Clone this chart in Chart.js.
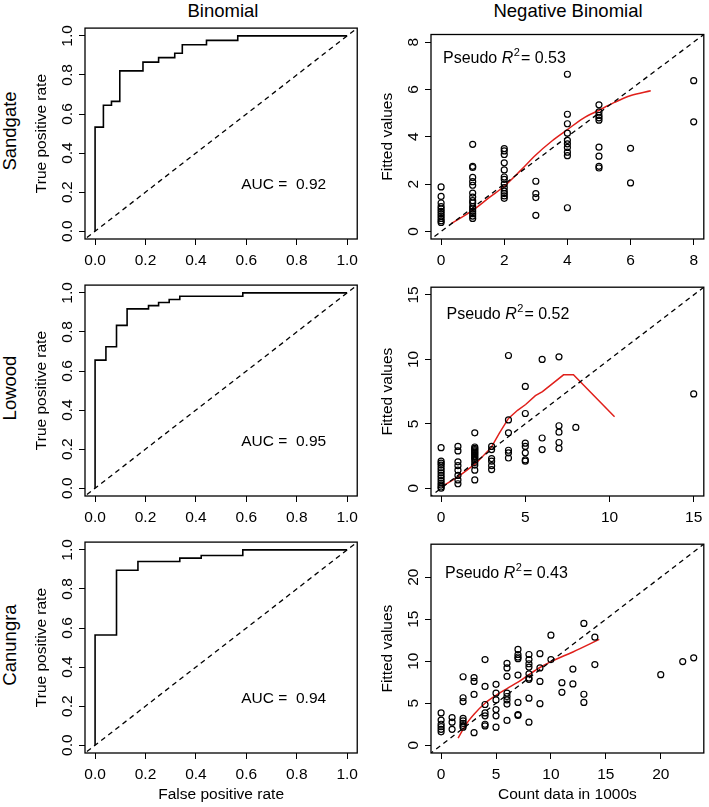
<!DOCTYPE html>
<html>
<head>
<meta charset="utf-8">
<script src="https://cdn.jsdelivr.net/npm/chart.js@4.4.1/dist/chart.umd.min.js"></script>
<style>
body{margin:0;background:#fff;width:709px;height:807px;position:relative;overflow:hidden;font-family:"Liberation Sans",Arial,sans-serif}
canvas{position:absolute}
.lab{position:absolute;white-space:nowrap;transform:translate(-50%,-50%);font-size:18.5px;color:#000;line-height:1}
.rot{transform:translate(-50%,-50%) rotate(-90deg)}
</style>
</head>
<body>
<div class="lab" style="left:223px;top:11px">Binomial</div>
<div class="lab" style="left:568px;top:11px">Negative Binomial</div>
<div class="lab rot" style="left:10px;top:131px">Sandgate</div>
<div class="lab rot" style="left:10px;top:388px">Lowood</div>
<div class="lab rot" style="left:10px;top:645px">Canungra</div>

<canvas id="roc1" width="364" height="251" style="left:0;top:18px"></canvas>
<canvas id="nb1" width="339" height="251" style="left:370px;top:18px"></canvas>
<canvas id="roc2" width="364" height="251" style="left:0;top:275px"></canvas>
<canvas id="nb2" width="339" height="251" style="left:370px;top:275px"></canvas>
<canvas id="roc3" width="364" height="275" style="left:0;top:532px"></canvas>
<canvas id="nb3" width="339" height="275" style="left:370px;top:532px"></canvas>

<script>
Chart.defaults.font.family = "'Liberation Sans', Arial, sans-serif";
Chart.defaults.color = '#000';

// ROC curves (false positive rate, true positive rate)
const rocTicks = [0, 0.2, 0.4, 0.6, 0.8, 1];
const sgFpr = [0, 0, 0.033, 0.065, 0.098, 0.19, 0.252, 0.316, 0.346, 0.442, 0.566, 1];
const sgTpr = [0, 0.533, 0.645, 0.665, 0.821, 0.866, 0.889, 0.911, 0.955, 0.977, 1, 1];
const lwFpr = [0, 0, 0.043, 0.085, 0.127, 0.212, 0.252, 0.294, 0.336, 0.586, 1];
const lwTpr = [0, 0.656, 0.724, 0.834, 0.918, 0.935, 0.951, 0.966, 0.983, 1, 1];
const cnFpr = [0, 0, 0.085, 0.170, 0.336, 0.421, 0.586, 1];
const cnTpr = [0, 0.564, 0.896, 0.941, 0.958, 0.971, 1, 1];
const aucLabels = ['AUC =  0.92', 'AUC =  0.95', 'AUC =  0.94'];

// negative binomial: observed counts and fitted values at each count
const sgTicks = [0, 2, 4, 6, 8];
const sgCounts = [0, 1, 2, 3, 4, 5, 6, 8];
const sgFitted = [
  [1.88, 1.48, 1.2, 1.05, 0.95, 0.85, 0.75, 0.65, 0.55, 0.45, 0.38],
  [3.68, 2.75, 2.7, 2.28, 2.1, 1.95, 1.62, 1.45, 1.3, 1.2, 1.05, 0.95, 0.85, 0.75, 0.65, 0.55],
  [3.5, 3.4, 3.25, 2.9, 2.6, 2.3, 2.2, 2.0, 1.85, 1.7, 1.6, 1.5, 1.4],
  [2.12, 1.6, 1.43, 0.68],
  [6.64, 4.95, 4.55, 4.15, 3.85, 3.7, 3.55, 3.35, 3.2, 1.0],
  [5.35, 5.05, 4.9, 4.8, 4.7, 3.56, 3.18, 2.75, 2.68],
  [3.51, 2.05],
  [6.37, 4.63]
];
const sgSmoothX = [0.33, 1.01, 1.53, 2.0, 2.52, 2.99, 3.51, 4.0, 4.5, 5.0, 5.49, 6.01, 6.64];
const sgSmoothY = [0.34, 0.9, 1.44, 1.91, 2.58, 3.22, 3.82, 4.3, 4.78, 5.12, 5.45, 5.74, 5.94];

const lwTicks = [0, 5, 10, 15];
const lwCounts = [0, 1, 2, 3, 4, 5, 6, 7, 8, 15];
const lwFitted = [
  [3.15, 2.1, 1.95, 1.8, 1.6, 1.4, 1.2, 1.0, 0.8, 0.6, 0.4, 0.25, 0.1, 0.0],
  [3.25, 2.9, 2.05, 1.75, 1.4, 1.0, 0.65, 0.35],
  [4.3, 3.2, 3.1, 3.0, 2.9, 2.8, 2.7, 2.6, 2.5, 2.4, 2.3, 2.2, 2.0, 1.8, 1.4, 0.65],
  [3.25, 3.0, 2.3, 2.1, 1.75, 1.45],
  [10.3, 5.3, 4.3, 2.95, 2.75, 2.35],
  [7.9, 5.8, 3.5, 3.25, 2.75, 2.2, 2.1],
  [10.0, 3.9, 3.0],
  [10.2, 4.85, 4.35, 3.55, 3.1],
  [4.72],
  [7.32]
];
const lwSmoothX = [0.04, 1.0, 2.03, 2.97, 3.46, 4.0, 4.54, 5.02, 5.6, 6.02, 7.27, 7.86, 10.3];
const lwSmoothY = [0.12, 0.88, 1.89, 3.15, 4.28, 5.42, 6.05, 6.5, 7.18, 7.5, 8.8, 8.8, 5.55];

const cnTicks = [0, 5, 10, 15, 20];
const cnCounts = [0, 1, 2, 3, 4, 5, 6, 7, 8, 9, 10, 11, 12, 13, 14, 20, 22, 23];
const cnFitted = [
  [3.85, 3.0, 2.5, 2.2, 1.9, 1.6],
  [3.3, 2.75, 1.9],
  [8.15, 5.65, 5.2, 3.2, 2.9, 2.6, 2.35, 2.15],
  [8.05, 7.6, 6.05, 1.5],
  [10.2, 7.0, 4.85, 3.85, 3.5, 2.5, 2.3],
  [7.25, 6.2, 5.4, 4.25, 3.5, 2.15],
  [9.75, 9.2, 8.2, 6.2, 5.8, 5.4, 4.9, 2.95],
  [11.4, 10.8, 10.5, 10.3, 8.35, 5.1, 3.65, 3.55],
  [10.8, 10.2, 9.7, 9.3, 8.5, 8.0, 7.85, 5.6, 2.75],
  [10.9, 9.2, 7.6, 4.95],
  [13.1, 10.2],
  [7.45, 6.3],
  [9.07, 7.3],
  [14.5, 6.07, 5.1],
  [12.86, 9.6],
  [8.4],
  [9.96],
  [10.4]
];
const cnSmoothX = [1.55, 2.0, 2.5, 3.0, 4.0, 5.0, 6.0, 7.0, 8.0, 9.0, 10.0, 12.0, 14.4];
const cnSmoothY = [0.85, 1.9, 2.9, 3.7, 5.0, 5.95, 6.75, 7.5, 8.4, 9.25, 9.95, 11.1, 12.6];
const r2Labels = ['0.53', '0.52', '0.43'];

function pairs(xs, ys) { return xs.map((x, i) => ({x: x, y: ys[i]})); }
function flat(xs, groups) {
  const out = [];
  xs.forEach((x, i) => groups[i].forEach(y => out.push({x: x, y: y})));
  return out;
}

const frame = {
  id: 'frame',
  afterDraw(chart) {
    const {ctx, chartArea: a} = chart;
    ctx.save();
    ctx.strokeStyle = '#000';
    ctx.lineWidth = 1.3;
    ctx.strokeRect(a.left, a.top, a.right - a.left, a.bottom - a.top);
    ctx.restore();
  }
};

function axis(min, max, ticks, fmt, size, title, titlePad, tickPad, vertical) {
  const ax = {
    type: 'linear', min: min, max: max,
    afterBuildTicks: s => { s.ticks = ticks.map(v => ({value: v})); },
    grid: {drawOnChartArea: false, drawTicks: true, tickLength: 6, tickColor: '#000', tickWidth: 1},
    border: {display: false},
    ticks: {color: '#000', font: {size: 15.5}, padding: tickPad, autoSkip: false, callback: fmt},
    title: {display: !!title, text: title || '', color: '#000', font: {size: 15.5}}
  };
  if (vertical) {
    ax.afterFit = s => { s.width = size; };
    ax.ticks.minRotation = 90;
    ax.ticks.maxRotation = 90;
    ax.ticks.crossAlign = 'center';
    ax.title.padding = {top: titlePad, bottom: 0};
  } else {
    ax.afterFit = s => { s.height = size; };
    ax.ticks.maxRotation = 0;
    ax.title.padding = {top: 0, bottom: titlePad};
  }
  return ax;
}

const dashed = {type: 'line', data: [{x: -5, y: -5}, {x: 50, y: 50}], borderColor: '#000',
  borderWidth: 1.3, borderDash: [5, 4], pointRadius: 0, fill: false};

function rocChart(id, fpr, tpr, auc, bottom) {
  const note = {
    id: 'auc',
    afterDraw(chart) {
      const ctx = chart.ctx, sx = chart.scales.x, sy = chart.scales.y;
      ctx.save();
      ctx.fillStyle = '#000';
      ctx.font = "15.5px 'Liberation Sans', Arial, sans-serif";
      ctx.textBaseline = 'alphabetic';
      ctx.fillText(auc, sx.getPixelForValue(0.58), sy.getPixelForValue(0.215));
      ctx.restore();
    }
  };
  new Chart(document.getElementById(id), {
    type: 'scatter',
    data: {datasets: [
      Object.assign({}, dashed),
      {type: 'line', data: pairs(fpr, tpr), stepped: 'before', borderColor: '#000',
        borderWidth: 1.6, pointRadius: 0, fill: false}
    ]},
    options: {
      responsive: false, animation: false,
      layout: {padding: {top: 6, right: 2, left: 0, bottom: 0}},
      plugins: {legend: {display: false}, tooltip: {enabled: false}},
      scales: {
        x: axis(-0.04, 1.04, rocTicks, v => v.toFixed(1), bottom ? 54 : 30,
          bottom ? 'False positive rate' : '', 2.7, 6, false),
        y: axis(-0.04, 1.04, rocTicks, v => v.toFixed(1), 85, 'True positive rate', 32.7, 0.8, true)
      }
    },
    plugins: [frame, note]
  });
}

function nbChart(id, counts, fitted, sx, sy, smooth, ticks, lim, r2, pos, tickPad, bottom) {
  const note = {
    id: 'r2',
    afterDraw(chart) {
      const ctx = chart.ctx, a = chart.chartArea;
      let x = a.left + pos[0];
      const y = a.top + pos[1];
      ctx.save();
      ctx.fillStyle = '#000';
      ctx.textBaseline = 'alphabetic';
      ctx.font = "16px 'Liberation Sans', Arial, sans-serif";
      ctx.fillText('Pseudo ', x, y); x += ctx.measureText('Pseudo ').width;
      ctx.font = "italic 16px 'Liberation Sans', Arial, sans-serif";
      ctx.fillText('R', x, y); x += ctx.measureText('R').width + 0.5;
      ctx.font = "11px 'Liberation Sans', Arial, sans-serif";
      ctx.fillText('2', x, y - 7); x += ctx.measureText('2').width + 1;
      ctx.font = "16px 'Liberation Sans', Arial, sans-serif";
      ctx.fillText('= ' + r2, x, y);
      ctx.restore();
    }
  };
  const trend = {type: 'line', data: pairs(sx, sy), borderColor: '#e0201b', borderWidth: 1.5,
    pointRadius: 0, fill: false};
  if (smooth) trend.cubicInterpolationMode = 'monotone';
  new Chart(document.getElementById(id), {
    type: 'scatter',
    data: {datasets: [
      {data: flat(counts, fitted), pointStyle: 'circle', pointRadius: 3, borderColor: '#000',
        borderWidth: 1.2, backgroundColor: 'rgba(0,0,0,0)'},
      Object.assign({}, dashed),
      trend
    ]},
    options: {
      responsive: false, animation: false,
      layout: {padding: {top: 6, right: 3, left: 0, bottom: 0}},
      plugins: {legend: {display: false}, tooltip: {enabled: false}},
      scales: {
        x: axis(lim[0], lim[1], ticks, v => String(v), bottom ? 54 : 30,
          bottom ? 'Count data in 1000s' : '', 2.7, 6, false),
        y: axis(lim[0], lim[1], ticks, v => String(v), 61, 'Fitted values', 8.7, tickPad, true)
      }
    },
    plugins: [frame, note]
  });
}

rocChart('roc1', sgFpr, sgTpr, aucLabels[0], false);
rocChart('roc2', lwFpr, lwTpr, aucLabels[1], false);
rocChart('roc3', cnFpr, cnTpr, aucLabels[2], true);
nbChart('nb1', sgCounts, sgFitted, sgSmoothX, sgSmoothY, true, sgTicks, [-0.32, 8.32], r2Labels[0], [12, 28.6], 7.2, false);
nbChart('nb2', lwCounts, lwFitted, lwSmoothX, lwSmoothY, false, lwTicks, [-0.6, 15.6], r2Labels[1], [15.5, 32], 2.9, false);
nbChart('nb3', cnCounts, cnFitted, cnSmoothX, cnSmoothY, true, cnTicks, [-0.92, 23.92], r2Labels[2], [14, 34], 2.9, true);
</script>
</body>
</html>
